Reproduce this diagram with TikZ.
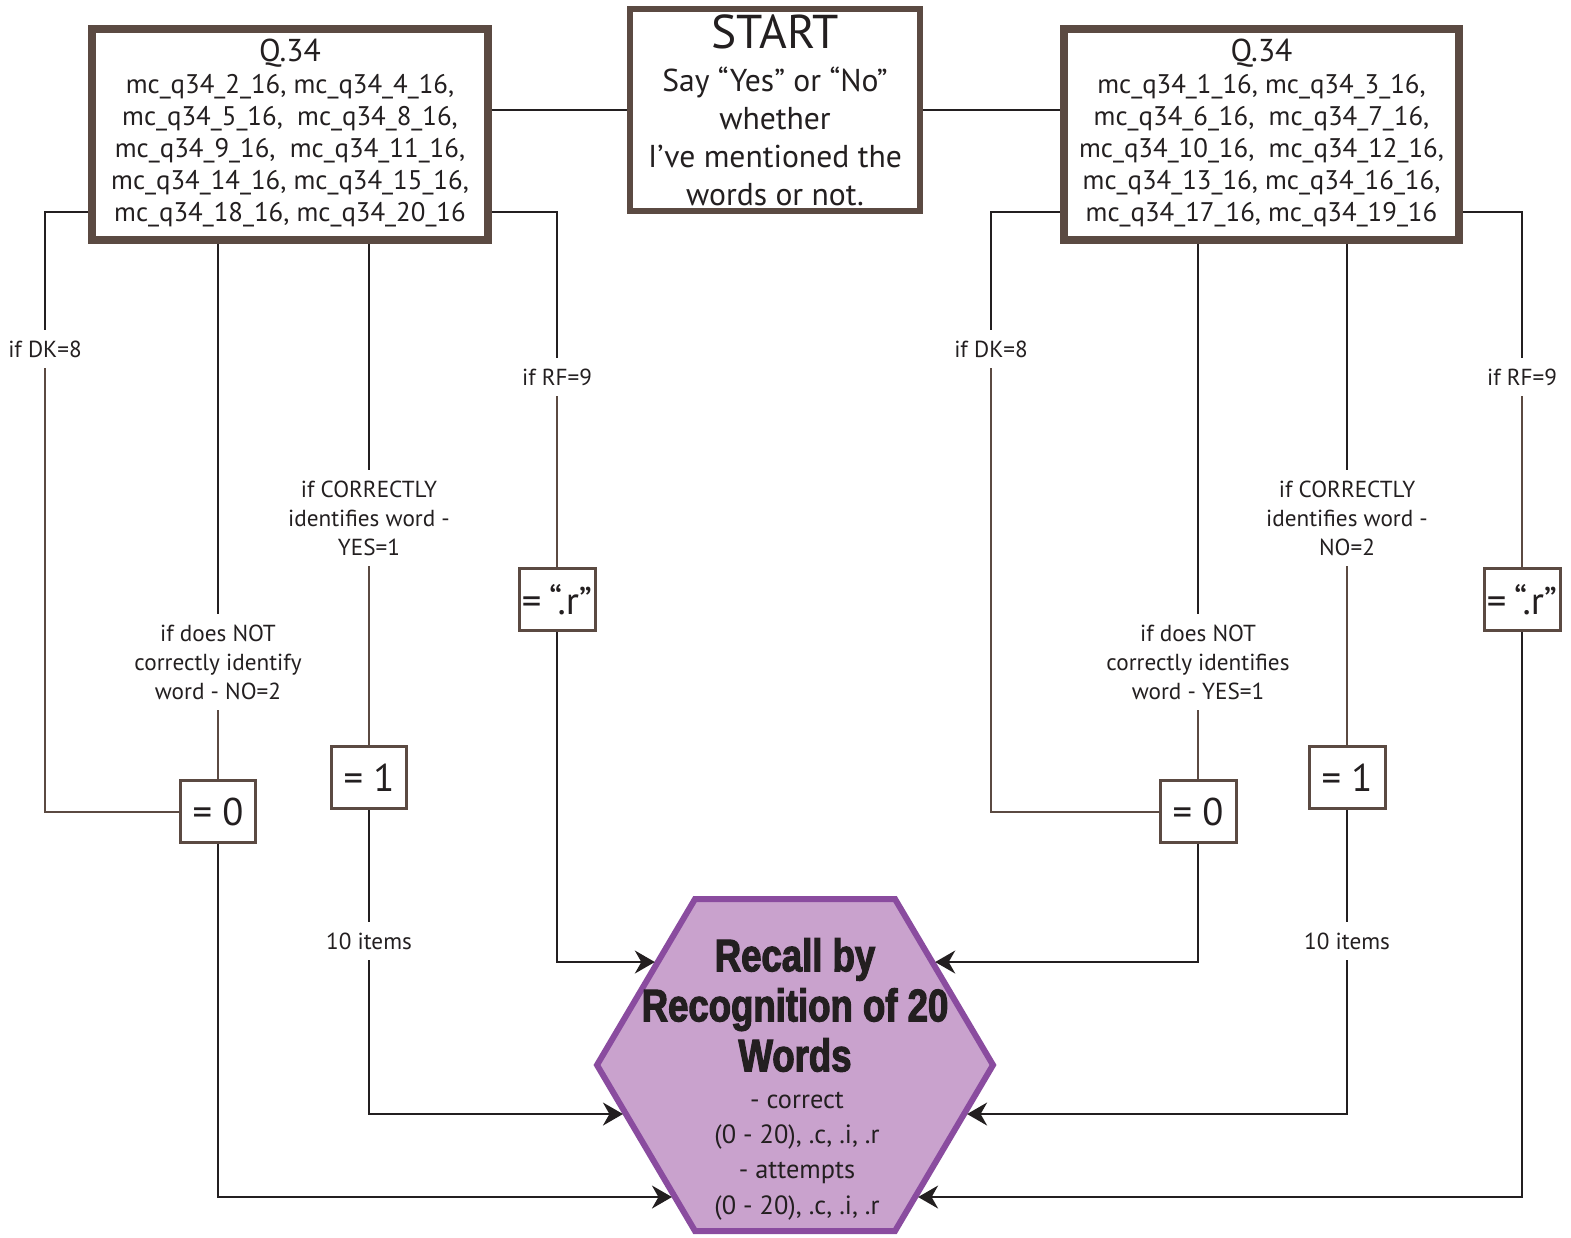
\documentclass[tikz,border=0pt]{standalone}
\usepackage{fontspec}
\setmainfont{PT Sans}
\newfontfamily\impactfont[FakeStretch=0.8,BoldFeatures={FakeBold=2.5}]{Liberation Sans}
\usetikzlibrary{arrows.meta}
\definecolor{brn}{HTML}{5B4A42}
\definecolor{ink}{HTML}{231F20}
\definecolor{hexfill}{HTML}{C9A2CD}
\definecolor{hexline}{HTML}{8A4C9F}
\begin{document}
\begin{tikzpicture}[x=0.02cm,y=-0.02cm,
 qbox/.style={draw=brn, line width=0.16cm, fill=white, minimum width=7.92cm, minimum height=4.22cm, align=center, inner sep=0pt, text=ink, font=\fontsize{15.3}{18.2}\selectfont},
 sbox/.style={draw=brn, line width=0.12cm, fill=white, minimum width=5.8cm, minimum height=4.04cm, align=center, inner sep=0pt, text=ink, font=\fontsize{18}{21.6}\selectfont},
 vbox/.style={draw=brn, line width=0.06cm, fill=white, minimum width=1.52cm, minimum height=1.24cm, inner sep=0pt, text=ink, font=\fontsize{22}{24}\selectfont},
 lbl/.style={align=center, inner xsep=2pt, inner ysep=6pt, text=ink, font=\fontsize{13.2}{16.5}\selectfont},
 blk/.style={draw=ink, line width=0.04cm},
 brl/.style={draw=brn, line width=0.04cm},
 arr/.style={blk, -{Stealth[length=0.4cm,width=0.46cm,inset=0.13cm]}, shorten >=0.06cm},
]
\useasboundingbox (0,0) rectangle (1571,1237);

% top boxes
\node[qbox] (qL) at (290,134.5) {{\fontsize{18}{20}\selectfont Q.34}\\
mc\_q34\_2\_16, mc\_q34\_4\_16,\\
mc\_q34\_5\_16,\ \ mc\_q34\_8\_16,\\
mc\_q34\_9\_16,\ \ mc\_q34\_11\_16,\\
mc\_q34\_14\_16, mc\_q34\_15\_16,\\
mc\_q34\_18\_16, mc\_q34\_20\_16\rule[-5pt]{0pt}{0pt}};
\node[sbox] (st) at (775,110) {{\fontsize{27}{27}\selectfont START}\\[3pt]
Say “Yes” or “No”\\ whether\\ I’ve mentioned the\\ words or not.};
\node[qbox] (qR) at (1261.5,134.5) {{\fontsize{18}{20}\selectfont Q.34}\\
mc\_q34\_1\_16, mc\_q34\_3\_16,\\
mc\_q34\_6\_16,\ \ mc\_q34\_7\_16,\\
mc\_q34\_10\_16,\ \ mc\_q34\_12\_16,\\
mc\_q34\_13\_16, mc\_q34\_16\_16,\\
mc\_q34\_17\_16, mc\_q34\_19\_16\rule[-5pt]{0pt}{0pt}};

\draw[blk] (st.west -| qL.east) -- (st.west);
\draw[blk] (st.east) -- (st.east -| qR.west);

\coordinate (yq) at (0,212);

% left labels and value boxes
\node[lbl] (dkL) at (45,349) {if DK=8};
\node[lbl] (noL) at (218,662) {if does NOT\\correctly identify\\word - NO=2};
\node[lbl] (yesL) at (369,518) {if CORRECTLY\\identifies word -\\YES=1};
\node[lbl] (rfL) at (557,377) {if RF=9};
\node[lbl] (tenL) at (369,941) {10 items};
\node[vbox] (z0L) at (218,811.5) {= 0};
\node[vbox] (o1L) at (369,777.5) {= 1};
\node[vbox] (rL) at (557,599.5) {=\hspace{0.2em}“.r”};

% right labels and value boxes
\node[lbl] (dkR) at (991,349) {if DK=8};
\node[lbl] (notR) at (1198,662) {if does NOT\\correctly identifies\\word - YES=1};
\node[lbl] (noR) at (1347,518) {if CORRECTLY\\identifies word -\\NO=2};
\node[lbl] (rfR) at (1522,377) {if RF=9};
\node[lbl] (tenR) at (1347,941) {10 items};
\node[vbox] (z0R) at (1198,811.5) {= 0};
\node[vbox] (o1R) at (1347,777.5) {= 1};
\node[vbox] (rR) at (1522,599.5) {=\hspace{0.2em}“.r”};

% hexagon
\coordinate (hTL) at (695,899);
\coordinate (hTR) at (895,899);
\coordinate (hR) at (993,1065);
\coordinate (hBR) at (895,1231);
\coordinate (hBL) at (695,1231);
\coordinate (hL) at (597,1065);
\draw[hexline, fill=hexfill, line width=0.12cm, line join=miter] (hTL) -- (hTR) -- (hR) -- (hBR) -- (hBL) -- (hL) -- cycle;
\node[align=center, text=ink, font=\impactfont\bfseries\fontsize{26}{28.5}\selectfont] (htitle) at (795,1005) {Recall by\\Recognition of 20\\Words};
\node[align=center, text=ink, font=\fontsize{15}{20}\selectfont] (hsub) at (797,1156) {- correct\\(0 - 20), .c, .i, .r\\- attempts\\(0 - 20), .c, .i, .r};

\coordinate (ya1) at (0,962);   \coordinate (ya2) at (100,962);
\coordinate (yb1) at (0,1114);  \coordinate (yb2) at (100,1114);
\coordinate (yc1) at (0,1197);  \coordinate (yc2) at (100,1197);
\coordinate (hA1) at (intersection of hTL--hL and ya1--ya2);
\coordinate (hA2) at (intersection of hL--hBL and yb1--yb2);
\coordinate (hA3) at (intersection of hL--hBL and yc1--yc2);
\coordinate (hB1) at (intersection of hTR--hR and ya1--ya2);
\coordinate (hB2) at (intersection of hR--hBR and yb1--yb2);
\coordinate (hB3) at (intersection of hR--hBR and yc1--yc2);

% left connectors
\draw[blk] (qL.west |- yq) -| (dkL.north);
\draw[brl] (dkL.south) |- (z0L.west);
\draw[blk] (qL.south -| noL) -- (noL.north);
\draw[brl] (noL.south) -- (z0L.north);
\draw[arr] (z0L.south) |- (hA3);
\draw[blk] (qL.south -| yesL) -- (yesL.north);
\draw[brl] (yesL.south) -- (o1L.north);
\draw[blk] (o1L.south) -- (tenL.north);
\draw[arr] (tenL.south) |- (hA2);
\draw[blk] (qL.east |- yq) -| (rfL.north);
\draw[brl] (rfL.south) -- (rL.north);
\draw[arr] (rL.south) |- (hA1);

% right connectors
\draw[blk] (qR.west |- yq) -| (dkR.north);
\draw[brl] (dkR.south) |- (z0R.west);
\draw[blk] (qR.south -| notR) -- (notR.north);
\draw[brl] (notR.south) -- (z0R.north);
\draw[arr] (z0R.south) |- (hB1);
\draw[blk] (qR.south -| noR) -- (noR.north);
\draw[brl] (noR.south) -- (o1R.north);
\draw[blk] (o1R.south) -- (tenR.north);
\draw[arr] (tenR.south) |- (hB2);
\draw[blk] (qR.east |- yq) -| (rfR.north);
\draw[brl] (rfR.south) -- (rR.north);
\draw[arr] (rR.south) |- (hB3);
\end{tikzpicture}
\end{document}
